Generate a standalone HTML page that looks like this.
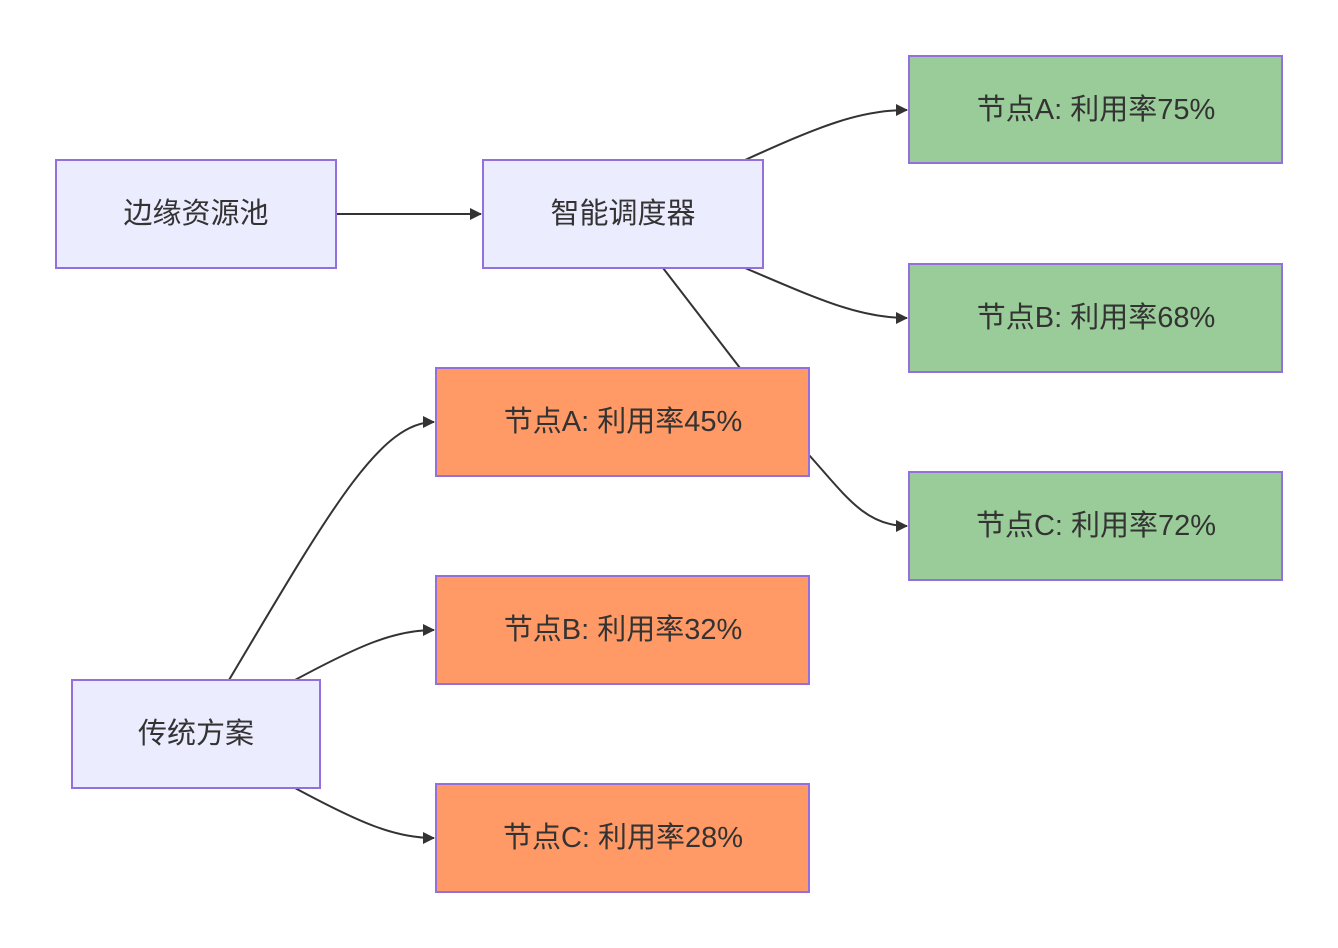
<!DOCTYPE html>
<html><head><meta charset="utf-8"><style>
html,body{margin:0;padding:0;background:#fff;}
svg{display:block;}
text{font-family:"Liberation Sans","Noto Sans CJK SC",sans-serif;font-size:29px;fill:#333;text-anchor:middle;dominant-baseline:central;}
.l{fill:none;stroke:#333;stroke-width:2;}
.p{fill:#ECECFF;stroke:#9370DB;stroke-width:2;}
.g{fill:#99CC99;stroke:#9370DB;stroke-width:2;}
.o{fill:#FF9966;stroke:#9370DB;stroke-width:2;}
</style></head><body>
<svg width="1338" height="948" viewBox="0 0 1338 948" xmlns="http://www.w3.org/2000/svg">
<defs><marker id="a" viewBox="0 0 12 12" refX="11" refY="6" markerWidth="12" markerHeight="12" markerUnits="userSpaceOnUse" orient="auto"><path d="M0,0 L12,6 L0,12 z" fill="#333"/></marker></defs>
<path class="l" d="M336,214 L481,214" marker-end="url(#a)"/>
<path class="l" d="M745,160 C820,126 860,110 907,110" marker-end="url(#a)"/>
<path class="l" d="M745,268 C820,300 860,318 907,318" marker-end="url(#a)"/>
<path class="l" d="M663,268 L740,368"/>
<path class="l" d="M809,455 C845,495 865,526 907,526" marker-end="url(#a)"/>
<path class="l" d="M229,680 C330,510 380,422 434,422" marker-end="url(#a)"/>
<path class="l" d="M295,680 C360,645 395,630 434,630" marker-end="url(#a)"/>
<path class="l" d="M295,788 C360,823 395,838 434,838" marker-end="url(#a)"/>
<rect class="p" x="56" y="160" width="280" height="108"/><text x="196" y="214">边缘资源池</text>
<rect class="p" x="483" y="160" width="280" height="108"/><text x="623" y="214">智能调度器</text>
<rect class="g" x="909" y="56" width="373" height="107"/><text x="1096" y="110">节点A: 利用率75%</text>
<rect class="g" x="909" y="264" width="373" height="108"/><text x="1096" y="318">节点B: 利用率68%</text>
<rect class="g" x="909" y="472" width="373" height="108"/><text x="1096" y="526">节点C: 利用率72%</text>
<rect class="o" x="436" y="368" width="373" height="108"/><text x="623" y="422">节点A: 利用率45%</text>
<rect class="o" x="436" y="576" width="373" height="108"/><text x="623" y="630">节点B: 利用率32%</text>
<rect class="o" x="436" y="784" width="373" height="108"/><text x="623" y="838">节点C: 利用率28%</text>
<rect class="p" x="72" y="680" width="248" height="108"/><text x="196" y="734">传统方案</text>
</svg>
</body></html>
